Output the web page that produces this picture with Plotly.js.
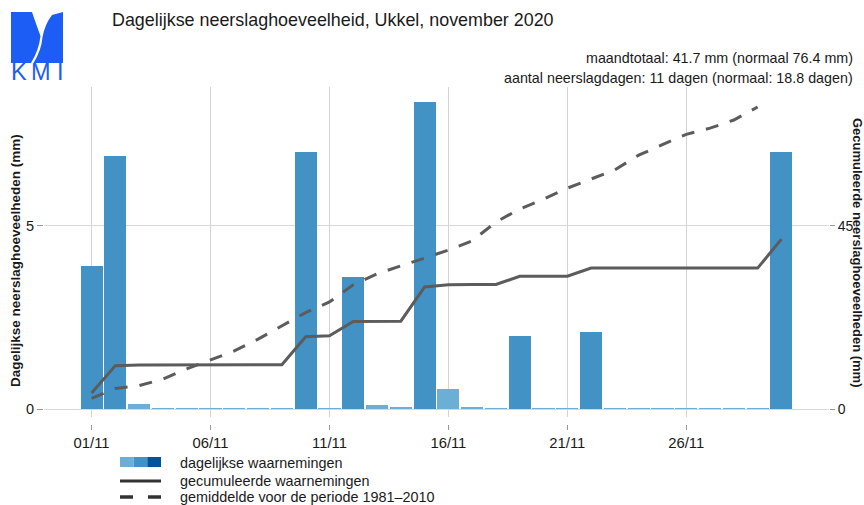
<!DOCTYPE html>
<html>
<head>
<meta charset="utf-8">
<script src="https://cdn.plot.ly/plotly-3.0.1.min.js"></script>
<style>
  html, body { margin: 0; padding: 0; background: #fff; }
  #chart { width: 864px; height: 505px; }
</style>
</head>
<body>
<div id="chart"></div>
<script>
// ---- data ----
const days = [1,2,3,4,5,6,7,8,9,10,11,12,13,14,15,16,17,18,19,20,21,22,23,24,25,26,27,28,29,30];
const dailyMm = [3.9, 6.9, 0.15, 0.03, 0.03, 0.03, 0.03, 0.03, 0.03, 7.0,
                 0.03, 3.6, 0.13, 0.05, 8.37, 0.55, 0.07, 0.04, 2.0, 0.03,
                 0.03, 2.1, 0.03, 0.03, 0.03, 0.03, 0.03, 0.03, 0.03, 7.02];
const cumulativeMm = [4.0, 10.7, 10.85, 10.85, 10.85, 10.85, 10.85, 10.85, 10.9, 17.8,
                      18.0, 21.5, 21.6, 21.6, 30.0, 30.5, 30.6, 30.6, 32.6, 32.6,
                      32.6, 34.6, 34.6, 34.6, 34.6, 34.6, 34.6, 34.6, 34.6, 41.7];
const normalMm = [2.7, 5.1, 5.8, 7.4, 9.9, 12.1, 14.3, 17.2, 20.4, 23.7,
                  26.3, 30.5, 33.2, 35.1, 37.1, 39.0, 41.3, 45.9, 49.1, 51.5,
                  54.2, 56.4, 58.7, 62.3, 64.8, 67.4, 68.9, 70.9, 74.1, null];
const tickDays = [1, 6, 11, 16, 21, 26];
const tickLabels = ['01/11', '06/11', '11/11', '16/11', '21/11', '26/11'];
const leftTicks = [0, 5];
const rightTicks = [0, 45];
const legendLabels = ['dagelijkse waarnemingen', 'gecumuleerde waarnemingen', 'gemiddelde voor de periode 1981\u20132010'];
const titleText = 'Dagelijkse neerslaghoeveelheid, Ukkel, november 2020';
const totalText = 'maandtotaal: 41.7 mm (normaal 76.4 mm)';
const daysText = 'aantal neerslagdagen: 11 dagen (normaal: 18.8 dagen)';

// ---- styling / layout ----
const FONT = 'Liberation Sans, Arial, Helvetica, sans-serif';
const TXT = '#1a1a1a';
const LIGHT = '#6baed6', MID = '#4292c6', DARK = '#08519c';
const LOGO = '#1c5ef5';
const W = 864, H = 505;
const M = {l: 44, r: 35, t: 87, b: 81};
const PW = W - M.l - M.r, PH = H - M.t - M.b;
const px = x => (x - M.l) / PW;
const py = y => (H - M.b - y) / PH;
const panelBottom = 417;
const domLo = py(panelBottom);
const yRange = [-0.21, 8.777];
const ratio = 9;

const barColors = dailyMm.map(v => v < 1 ? LIGHT : (v < 10 ? MID : DARK));

const traces = [
  {type: 'bar', x: days, y: dailyMm, width: 0.93, marker: {color: barColors},
   xaxis: 'x', yaxis: 'y', hoverinfo: 'skip'},
  {type: 'scatter', mode: 'lines', x: days, y: cumulativeMm,
   line: {color: '#5c5c5c', width: 3}, xaxis: 'x', yaxis: 'y2', hoverinfo: 'skip'},
  {type: 'scatter', mode: 'lines', x: days, y: normalMm,
   line: {color: '#5c5c5c', width: 3, dash: '13px,12px'}, xaxis: 'x', yaxis: 'y2', hoverinfo: 'skip'}
];

function P(x, y) { return px(x).toFixed(5) + ',' + py(y).toFixed(5); }
const logoLeft = 'M' + P(11,12) + ' L' + P(32,12) + ' Q' + P(36,24) + ' ' + P(40.5,36) +
                 ' Q' + P(39,50) + ' ' + P(31,63) + ' L' + P(11,63) + ' Z';
const logoRight = 'M' + P(52,15) + ' L' + P(63,12) + ' L' + P(63,63) + ' L' + P(33.5,63) +
                  ' Q' + P(41.5,50) + ' ' + P(42.5,37) + ' Q' + P(45,24) + ' ' + P(52,15) + ' Z';

const shapes = [
  {type: 'path', xref: 'paper', yref: 'paper', path: logoLeft, fillcolor: LOGO, line: {width: 0}},
  {type: 'path', xref: 'paper', yref: 'paper', path: logoRight, fillcolor: LOGO, line: {width: 0}},
  // legend swatches
  {type: 'rect', xref: 'paper', yref: 'paper', x0: px(120), x1: px(133.7), y0: py(467), y1: py(457), fillcolor: LIGHT, line: {width: 0}},
  {type: 'rect', xref: 'paper', yref: 'paper', x0: px(133.7), x1: px(147.3), y0: py(467), y1: py(457), fillcolor: MID, line: {width: 0}},
  {type: 'rect', xref: 'paper', yref: 'paper', x0: px(147.3), x1: px(161), y0: py(467), y1: py(457), fillcolor: DARK, line: {width: 0}},
  {type: 'line', xref: 'paper', yref: 'paper', x0: px(120), x1: px(161), y0: py(481), y1: py(481), line: {color: '#333333', width: 3}},
  {type: 'line', xref: 'paper', yref: 'paper', x0: px(120), x1: px(133), y0: py(497), y1: py(497), line: {color: '#333333', width: 3.5}},
  {type: 'line', xref: 'paper', yref: 'paper', x0: px(148), x1: px(161), y0: py(497), y1: py(497), line: {color: '#333333', width: 3.5}}
];

const ann = (text, x, y, opts) => Object.assign({
  text: text, xref: 'paper', yref: 'paper', x: px(x), y: py(y), showarrow: false,
  xanchor: 'left', yanchor: 'middle', font: {family: FONT, size: 14.4, color: TXT}
}, opts || {});

const annotations = [
  ann(totalText, 855, 58, {xanchor: 'right', font: {family: FONT, size: 14.3, color: TXT}}),
  ann(daysText, 855, 78, {xanchor: 'right', font: {family: FONT, size: 14.3, color: TXT}}),
  ann(legendLabels[0], 178, 463),
  ann(legendLabels[1], 178, 481),
  ann(legendLabels[2], 178, 497),
  ann('Dagelijkse neerslaghoeveelheden (mm)', 15, 261, {xanchor: 'center', textangle: -90,
      font: {family: FONT, size: 13.5, color: TXT, weight: 'bold'}}),
  ann('Gecumuleerde neerslaghoeveelheden (mm)', 858, 252, {xanchor: 'center', textangle: 90,
      font: {family: FONT, size: 13, color: TXT, weight: 'bold'}}),
  ann('K', 19, 72, {xanchor: 'center', font: {family: FONT, size: 23.5, color: LOGO}}),
  ann('M', 41, 72, {xanchor: 'center', font: {family: FONT, size: 23.5, color: LOGO}}),
  ann('I', 60, 72, {xanchor: 'center', font: {family: FONT, size: 23.5, color: LOGO}})
];

const layout = {
  width: W, height: H,
  margin: M,
  paper_bgcolor: '#ffffff', plot_bgcolor: '#ffffff',
  showlegend: false,
  bargap: 0,
  font: {family: FONT, size: 14, color: TXT},
  title: {text: titleText, x: 112 / W, xanchor: 'left', xref: 'container',
          y: 1 - 20 / H, yanchor: 'middle', yref: 'container',
          font: {family: FONT, size: 17.9, color: TXT}},
  xaxis: {range: [-1.0, 32.0], anchor: 'free', position: 0,
          tickvals: tickDays, ticktext: tickLabels,
          ticks: 'outside', ticklen: 5, tickcolor: '#999999', tickwidth: 1,
          showgrid: true, gridcolor: '#d4d4d4', gridwidth: 1.2,
          zeroline: false, showline: false, fixedrange: true,
          tickfont: {family: FONT, size: 14.8, color: TXT}},
  yaxis: {range: yRange, domain: [domLo, 1],
          tickvals: leftTicks, ticktext: leftTicks.map(String),
          ticks: 'outside', ticklen: 6, tickcolor: '#999999', tickwidth: 1,
          showgrid: true, gridcolor: '#d9d9d9', gridwidth: 1.2,
          zeroline: false, showline: false, fixedrange: true,
          tickfont: {family: FONT, size: 14.5, color: TXT}},
  yaxis2: {range: [yRange[0] * ratio, yRange[1] * ratio], domain: [domLo, 1],
           overlaying: 'y', side: 'right', anchor: 'x',
           tickvals: rightTicks, ticktext: rightTicks.map(String),
           ticks: 'outside', ticklen: 5, tickcolor: '#999999', tickwidth: 1,
           showgrid: false, zeroline: false, showline: false, fixedrange: true,
           tickfont: {family: FONT, size: 14, color: TXT}},
  shapes: shapes,
  annotations: annotations
};

Plotly.newPlot('chart', traces, layout, {staticPlot: true, displayModeBar: false});
</script>
</body>
</html>
